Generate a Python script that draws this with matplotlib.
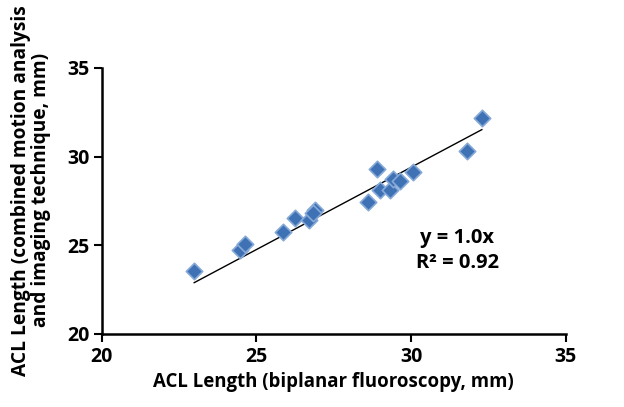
import numpy as np
import matplotlib
matplotlib.use("Agg")
import matplotlib.pyplot as plt

# ACL length, biplanar fluoroscopy (x) vs combined motion analysis + imaging (y), mm
fluoro_mm = [22.99, 24.47, 24.64, 25.87, 26.26, 26.69, 26.91, 26.83,
             28.60, 28.91, 29.00, 29.32, 29.41, 29.64, 30.05, 31.82, 32.29]
combined_mm = [23.57, 24.74, 25.08, 25.74, 26.56, 26.43, 26.99, 26.82,
               27.45, 29.32, 28.12, 28.12, 28.73, 28.65, 29.12, 30.32, 32.17]
# trendline as drawn in the figure
trend_slope = 0.928
trend_intercept = 1.56
ticks = [20, 25, 30, 35]
fit_text = "y = 1.0x\nR\u00b2 = 0.92"

plt.rcParams['font.family'] = ['Open Sans', 'DejaVu Sans']
plt.rcParams['font.weight'] = 'bold'

fig = plt.figure(figsize=(6.24, 4.07), dpi=100)
ax = fig.add_axes([101.7 / 624, 73 / 407, 464 / 624, 266 / 407])

x = np.array(fluoro_mm)
y = np.array(combined_mm)

ax.scatter(x, y, marker='D', s=70, color='#3f72b5', edgecolors='#86a9d8',
           linewidths=1.2, zorder=3)

xs = np.array([x.min(), x.max()])
ax.plot(xs, trend_slope * xs + trend_intercept, color='black', lw=1.0, zorder=2)

ax.text(31.5, 24.7, fit_text, ha='center', va='center', fontsize=14.5,
        fontweight='bold', linespacing=1.3)

ax.set_xlim(20, 35)
ax.set_ylim(20, 35)
ax.set_xticks(ticks)
ax.set_yticks(ticks)
ax.tick_params(direction='out', length=6, width=1.5, labelsize=14, pad=3)
for lbl in ax.get_xticklabels() + ax.get_yticklabels():
    lbl.set_fontweight('bold')

for side in ['top', 'right']:
    ax.spines[side].set_visible(False)
for side in ['left', 'bottom']:
    ax.spines[side].set_linewidth(1.8)

ax.set_xlabel("ACL Length (biplanar fluoroscopy, mm)", fontsize=13.4,
              fontweight='bold', labelpad=4)
ax.set_ylabel("ACL Length (combined motion analysis\nand imaging technique, mm)",
              fontsize=13.8, fontweight='bold', linespacing=1.0)
ax.yaxis.set_label_coords(-0.11, 0.54)

fig.savefig("out.png", dpi=100)
